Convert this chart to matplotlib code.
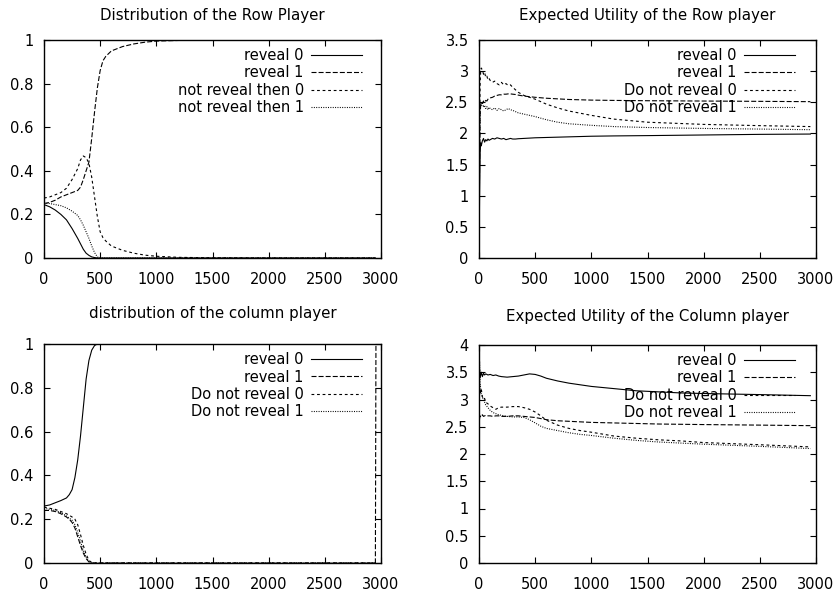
import matplotlib
matplotlib.use("Agg")
import matplotlib.pyplot as plt

plt.rcParams['font.family'] = ['DejaVu Sans']
plt.rcParams['lines.scale_dashes'] = False

# ---------------- data ----------------
# Top-left: Distribution of the Row Player
tl_x = [0, 50, 100, 150, 200, 250, 300, 325, 350, 375, 400, 425, 450, 475, 500, 525, 550,
        600, 700, 800, 900, 1000, 1200, 1500, 2000, 2500, 2950]
tl_reveal0 = [0.245, 0.235, 0.22, 0.20, 0.175, 0.135, 0.09, 0.065, 0.04, 0.022, 0.012, 0.005, 0.002, 0.0, 0.0, 0.0, 0.0,
              0.0, 0.0, 0.0, 0.0, 0.0, 0.0, 0.0, 0.0, 0.0, 0.0]
tl_reveal1 = [0.25, 0.255, 0.265, 0.28, 0.29, 0.30, 0.31, 0.325, 0.36, 0.40, 0.44, 0.55, 0.67, 0.78, 0.86, 0.905, 0.925,
              0.95, 0.97, 0.982, 0.99, 0.995, 0.998, 1.0, 1.0, 1.0, 1.0]
tl_notrev0 = [0.275, 0.28, 0.29, 0.30, 0.32, 0.36, 0.41, 0.45, 0.468, 0.46, 0.435, 0.37, 0.28, 0.19, 0.12, 0.093, 0.078,
              0.055, 0.035, 0.022, 0.013, 0.008, 0.003, 0.001, 0.0, 0.0, 0.0]
tl_notrev1 = [0.25, 0.25, 0.245, 0.24, 0.23, 0.215, 0.195, 0.175, 0.15, 0.12, 0.09, 0.055, 0.025, 0.005, 0.0, 0.0, 0.0,
              0.0, 0.0, 0.0, 0.0, 0.0, 0.0, 0.0, 0.0, 0.0, 0.0]
tl_labels = ["reveal 0", "reveal 1", "not reveal then 0", "not reveal then 1"]

# Top-right: Expected Utility of the Row player
tr_x = [0, 5, 10, 15, 20, 30, 40, 50, 60, 70, 80, 90, 100, 120, 140, 160, 180, 200, 220, 240, 260, 280, 300,
        325, 350, 400, 450, 500, 600, 700, 800, 1000, 1200, 1500, 2000, 2500, 2950]
tr_reveal0 = [0.0, 1.0, 1.7, 1.85, 1.8, 1.88, 1.92, 1.86, 1.9, 1.88, 1.91, 1.89, 1.9, 1.92, 1.91, 1.93, 1.92, 1.91,
              1.92, 1.9, 1.91, 1.92, 1.91, 1.91, 1.915, 1.92, 1.925, 1.93, 1.935, 1.94, 1.945, 1.955, 1.96, 1.965,
              1.975, 1.985, 1.99]
tr_reveal1 = [0.0, 1.5, 2.3, 2.45, 2.5, 2.48, 2.52, 2.5, 2.53, 2.52, 2.55, 2.56, 2.57, 2.58, 2.6, 2.61, 2.62, 2.62,
              2.63, 2.63, 2.635, 2.635, 2.63, 2.625, 2.615, 2.6, 2.59, 2.58, 2.565, 2.555, 2.545, 2.535, 2.53, 2.525,
              2.52, 2.515, 2.51]
tr_dnr0 = [0.0, 2.0, 2.8, 3.0, 3.05, 3.02, 2.95, 2.98, 2.9, 2.92, 2.86, 2.88, 2.85, 2.82, 2.84, 2.8, 2.78, 2.82,
           2.78, 2.8, 2.77, 2.78, 2.74, 2.7, 2.66, 2.61, 2.58, 2.55, 2.47, 2.41, 2.36, 2.29, 2.23, 2.18, 2.145,
           2.125, 2.11]
tr_dnr1 = [0.0, 1.8, 2.4, 2.5, 2.45, 2.5, 2.42, 2.45, 2.4, 2.43, 2.38, 2.42, 2.4, 2.38, 2.41, 2.37, 2.4, 2.38,
           2.36, 2.38, 2.4, 2.38, 2.37, 2.35, 2.33, 2.31, 2.29, 2.27, 2.22, 2.18, 2.155, 2.13, 2.11, 2.095, 2.08,
           2.07, 2.06]
tr_labels = ["reveal 0", "reveal 1", "Do not reveal 0", "Do not reveal 1"]

# Bottom-left: distribution of the column player
bl_x = [0, 50, 100, 150, 200, 225, 250, 275, 300, 325, 350, 375, 400, 425, 450, 475, 500, 1000, 1500, 2000,
        2500, 2950, 2955]
bl_reveal0 = [0.26, 0.265, 0.275, 0.285, 0.297, 0.312, 0.335, 0.39, 0.47, 0.58, 0.71, 0.84, 0.925, 0.972, 0.993,
              1.0, 1.0, 1.0, 1.0, 1.0, 1.0, 1.0, 1.0]
bl_reveal1 = [0.24, 0.24, 0.235, 0.225, 0.21, 0.2, 0.185, 0.16, 0.12, 0.08, 0.045, 0.02, 0.005, 0.0, 0.0, 0.0,
              0.0, 0.0, 0.0, 0.0, 0.0, 0.0, 1.0]
bl_dnr0 = [0.255, 0.25, 0.245, 0.235, 0.225, 0.218, 0.21, 0.2, 0.175, 0.13, 0.08, 0.04, 0.012, 0.002, 0.0, 0.0,
           0.0, 0.0, 0.0, 0.0, 0.0, 0.0, 0.0]
bl_dnr1 = [0.25, 0.245, 0.24, 0.23, 0.215, 0.205, 0.195, 0.175, 0.14, 0.10, 0.055, 0.025, 0.006, 0.0, 0.0, 0.0,
           0.0, 0.0, 0.0, 0.0, 0.0, 0.0, 0.0]
bl_labels = ["reveal 0", "reveal 1", "Do not reveal 0", "Do not reveal 1"]

# Bottom-right: Expected Utility of the Column player
br_x = [0, 5, 10, 20, 30, 40, 50, 60, 80, 100, 125, 150, 175, 200, 250, 300, 350, 400, 450, 500, 550, 600,
        700, 800, 900, 1000, 1200, 1400, 1600, 1800, 2000, 2500, 2950]
br_reveal0 = [3.3, 3.55, 3.4, 3.5, 3.42, 3.48, 3.45, 3.47, 3.45, 3.46, 3.44, 3.45, 3.43, 3.42, 3.41, 3.42, 3.43,
              3.45, 3.47, 3.46, 3.43, 3.39, 3.34, 3.3, 3.27, 3.24, 3.2, 3.16, 3.14, 3.12, 3.11, 3.09, 3.07]
br_reveal1 = [2.5, 2.65, 2.7, 2.68, 2.72, 2.69, 2.7, 2.71, 2.7, 2.7, 2.69, 2.7, 2.7, 2.69, 2.69, 2.7, 2.7,
              2.69, 2.68, 2.67, 2.65, 2.63, 2.61, 2.6, 2.59, 2.58, 2.57, 2.56, 2.55, 2.545, 2.54, 2.53, 2.52]
br_dnr0 = [3.9, 3.3, 3.1, 3.2, 3.05, 3.0, 3.02, 2.95, 2.92, 2.88, 2.85, 2.82, 2.85, 2.86, 2.86, 2.87, 2.87,
           2.85, 2.82, 2.77, 2.7, 2.62, 2.53, 2.47, 2.43, 2.4, 2.33, 2.29, 2.26, 2.24, 2.21, 2.17, 2.13]
br_dnr1 = [0.3, 3.7, 3.3, 3.1, 3.05, 2.98, 2.95, 2.9, 2.85, 2.8, 2.76, 2.74, 2.72, 2.71, 2.69, 2.68, 2.68,
           2.67, 2.63, 2.57, 2.51, 2.47, 2.43, 2.39, 2.36, 2.34, 2.29, 2.25, 2.22, 2.2, 2.18, 2.14, 2.1]
br_labels = ["reveal 0", "reveal 1", "Do not reveal 0", "Do not reveal 1"]

x_ticks = [0, 500, 1000, 1500, 2000, 2500, 3000]
dist_ticks = [0, 0.2, 0.4, 0.6, 0.8, 1]
dist_ticklabels = ["0", "0.2", "0.4", "0.6", "0.8", "1"]
tr_ticks = [0, 0.5, 1, 1.5, 2, 2.5, 3, 3.5]
tr_ticklabels = ["0", "0.5", "1", "1.5", "2", "2.5", "3", "3.5"]
br_ticks = [0, 0.5, 1, 1.5, 2, 2.5, 3, 3.5, 4]
br_ticklabels = ["0", "0.5", "1", "1.5", "2", "2.5", "3", "3.5", "4"]

# ---------------- styling ----------------
styles = [dict(linestyle='-'),
          dict(dashes=(3.6, 1.5)),
          dict(dashes=(2.0, 2.0)),
          dict(dashes=(0.7, 1.0))]

W, H = 839, 591
fig = plt.figure(figsize=(W / 100, H / 100), dpi=100)


def box(l, t, r, b):
    return [l / W, 1 - b / H, (r - l) / W, (b - t) / H]


def panel(rect, title, tpad, x, series, labels, yticks, yticklabels, ymax, leg_anchor):
    ax = fig.add_axes(rect)
    for ys, lab, st in zip(series, labels, styles):
        ax.plot(x, ys, color='black', linewidth=0.8, label=lab, **st)
    ax.set_xlim(0, 3000)
    ax.set_ylim(0, ymax)
    ax.set_xticks(x_ticks)
    ax.set_xticklabels([str(v) for v in x_ticks])
    ax.set_yticks(yticks)
    ax.set_yticklabels(yticklabels)
    ax.tick_params(direction='in', top=True, right=True, length=4, width=0.8,
                   labelsize=10.5, pad=7.5)
    ax.tick_params(axis='x', pad=10)
    for s in ax.spines.values():
        s.set_linewidth(1.0)
    ax.set_title(title, fontsize=10.8, pad=tpad)
    ax.legend(loc='upper right', bbox_to_anchor=leg_anchor, frameon=False,
              markerfirst=False, fontsize=10.5, handlelength=3.5,
              handletextpad=0.5, labelspacing=0.15, borderaxespad=0, borderpad=0)
    return ax


panel(box(44, 40, 381, 258), "Distribution of the Row Player", 14.5,
      tl_x, [tl_reveal0, tl_reveal1, tl_notrev0, tl_notrev1], tl_labels,
      dist_ticks, dist_ticklabels, 1.0, (0.944, 0.962))
panel(box(479, 40, 816, 258), "Expected Utility of the Row player", 14.5,
      tr_x, [tr_reveal0, tr_reveal1, tr_dnr0, tr_dnr1], tr_labels,
      tr_ticks, tr_ticklabels, 3.5, (0.937, 0.962))
panel(box(44, 344, 381, 563), "distribution of the column player", 18.5,
      bl_x, [bl_reveal0, bl_reveal1, bl_dnr0, bl_dnr1], bl_labels,
      dist_ticks, dist_ticklabels, 1.0, (0.944, 0.962))
panel(box(479, 345, 816, 563), "Expected Utility of the Column player", 17.5,
      br_x, [br_reveal0, br_reveal1, br_dnr0, br_dnr1], br_labels,
      br_ticks, br_ticklabels, 4.0, (0.937, 0.962))

fig.savefig("out.png", dpi=100)
